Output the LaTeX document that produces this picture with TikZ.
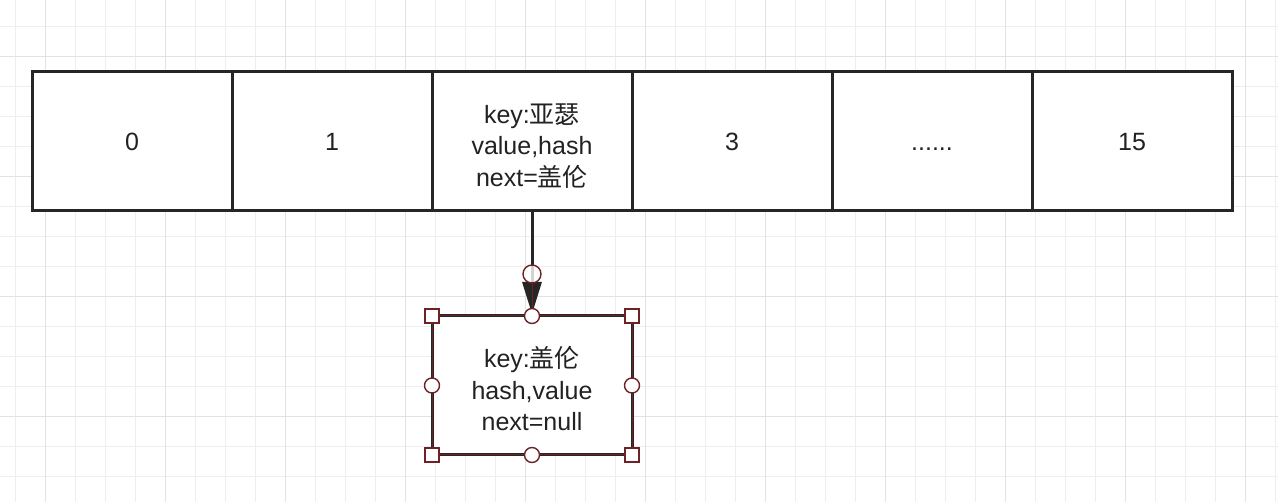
\documentclass[tikz,border=0pt]{standalone}
\usepackage{fontspec}
\setmainfont{Liberation Sans}
\newfontfamily\cjk{Noto Sans CJK SC}
\usetikzlibrary{positioning,arrows.meta,calc}
\definecolor{gridminor}{HTML}{EEEEEE}
\definecolor{gridmajor}{HTML}{E2E2E2}
\definecolor{handle}{HTML}{6E2226}
\definecolor{txt}{HTML}{222222}
\definecolor{rim}{HTML}{262626}

\tikzset{
  cell/.style={draw=rim, line width=3pt, fill=white, minimum width=200pt, minimum height=139pt,
    outer sep=0pt, inner sep=0pt, align=center, text=txt, font=\fontsize{25}{31.5}\selectfont},
  slot/.style={cell, text height=18pt, text depth=0pt},
  link/.style={draw=rim, line width=3pt, -{Triangle[length=32pt,width=19pt]}, shorten >=2pt},
  grip/.style={draw=handle, line width=1.4pt, fill=white, inner sep=0pt, minimum size=14pt},
  gripdot/.style={grip, circle, minimum size=15pt},
}
\newcommand{\toprow}{\rule{0pt}{28pt}}

\begin{document}
\begin{tikzpicture}[x=1pt,y=-1pt]
  \useasboundingbox (0,0) rectangle (1278,502);
  \fill[white] (0,0) rectangle (1278,502);
  % background grid
  \foreach \x in {15,45,...,1275} \draw[gridminor, line width=1pt] (\x,0) -- (\x,502);
  \foreach \y in {27,57,...,477} \draw[gridminor, line width=1pt] (0,\y) -- (1278,\y);
  \foreach \x in {45,165,...,1245} \draw[gridmajor, line width=1pt] (\x,0) -- (\x,502);
  \foreach \y in {57,177,...,417} \draw[gridmajor, line width=1pt] (0,\y) -- (1278,\y);

  % table of buckets
  \node[slot] (c0) at (132,141.5) {0};
  \node[slot, right=0pt of c0] (c1) {1};
  \node[cell, right=0pt of c1] (c2) {\toprow key:{\cjk 亚瑟}\\value,hash\\next={\cjk 盖伦}};
  \node[slot, right=0pt of c2] (c3) {3};
  \node[slot, right=0pt of c3] (c4) {......};
  \node[slot, right=0pt of c4] (c5) {15};

  % chained entry
  \node[cell, below=105pt of c2] (n1) {\toprow key:{\cjk 盖伦}\\hash,value\\next=null};
  \draw[link] (c2) -- (n1);

  % selection handles
  \node[gripdot, minimum size=18pt, fill opacity=0.8] (h0) at ($(c2.south)!0.6!(n1.north)$) {};
  \draw[handle, line width=1pt] (h0) -- (n1.north);
  \draw[handle, line width=1pt] (n1.north west) rectangle (n1.south east);
  \foreach \a/\n in {north west/nw, north east/ne, south west/sw, south east/se}
    \node[grip] (g\n) at (n1.\a) {};
  \foreach \a/\n in {north/n, south/s, east/e, west/w}
    \node[gripdot] (d\n) at (n1.\a) {};
\end{tikzpicture}
\end{document}
